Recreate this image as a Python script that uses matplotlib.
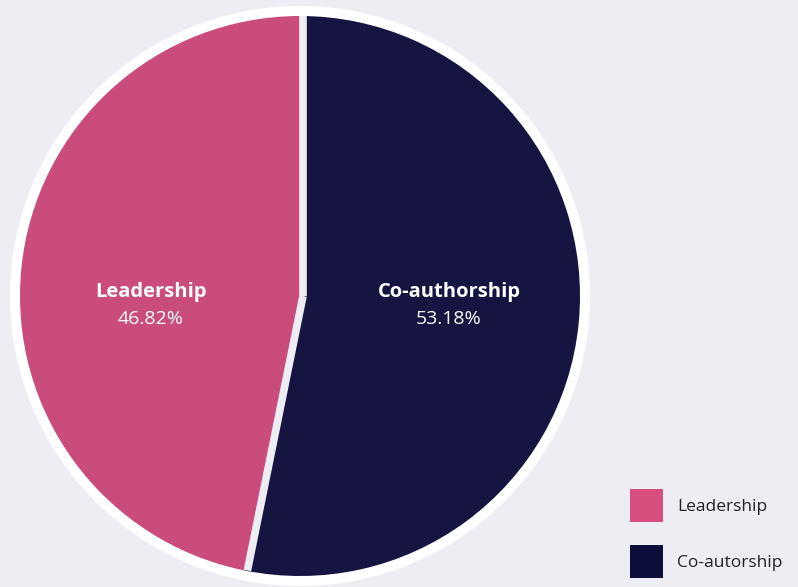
import numpy as np
import matplotlib
matplotlib.use("Agg")
import matplotlib.pyplot as plt
from matplotlib.patches import Circle, Rectangle

categories = ["Leadership", "Co-authorship"]
legend_labels = ["Leadership", "Co-autorship"]
values = [46.82, 53.18]
slice_colors = ["#c94c7c", "#161441"]
legend_colors = ["#d64f7f", "#0d0d3a"]
bg = "#efedf4"

W, H = 798, 587
fig = plt.figure(figsize=(W / 100, H / 100), dpi=100, facecolor=bg)
plt.rcParams['font.family'] = ['Open Sans', 'DejaVu Sans']

cx, cy, R = 300, 296, 290
ax = fig.add_axes([(cx - R) / W, (H - cy - R) / H, 2 * R / W, 2 * R / H])

ax.add_patch(Circle((0, 0), 1.0, facecolor="white", edgecolor="none", zorder=0))
r_pie = 280 / 290
wedges, _ = ax.pie(values, colors=slice_colors, startangle=90, counterclock=True,
                   radius=r_pie, wedgeprops=dict(linewidth=0))
for w in wedges:
    w.set_zorder(1)
ax.set_xlim(-1, 1)
ax.set_ylim(-1, 1)
ax.set_aspect("equal")
ax.axis("off")

# separating gaps (slightly right of centre, as in the original)
off = 3.0 / R
total = sum(values)
angles = [90]
for v in values:
    angles.append(angles[-1] + 360 * v / total)
for a in angles[:-1]:
    t = np.deg2rad(a)
    ax.plot([off, off + r_pie * np.cos(t)], [0, r_pie * np.sin(t)], color=bg, lw=5.5,
            solid_capstyle="butt", solid_joinstyle="miter", zorder=2)

for i, (cat, v) in enumerate(zip(categories, values)):
    mid = np.deg2rad((angles[i] + angles[i + 1]) / 2)
    x = 0.535 * r_pie * np.cos(mid)
    ax.text(x, 0.015, cat, color="white", fontsize=14.5, fontweight="bold",
            ha="center", va="center", zorder=3)
    ax.text(x, -0.08, f"{v:.2f}%", color="white", fontsize=14,
            ha="center", va="center", zorder=3)

# legend
for i, (lab, col) in enumerate(zip(legend_labels, legend_colors)):
    top = 489 + i * 56
    fig.patches.append(Rectangle((630 / W, 1 - (top + 33) / H), 33 / W, 33 / H,
                                 transform=fig.transFigure, facecolor=col,
                                 edgecolor="none"))
    fig.text(677 / W, 1 - (top + 18) / H, lab, fontsize=12.5, color="#222222",
             ha="left", va="center")

fig.savefig("out.png", dpi=100, facecolor=bg)
